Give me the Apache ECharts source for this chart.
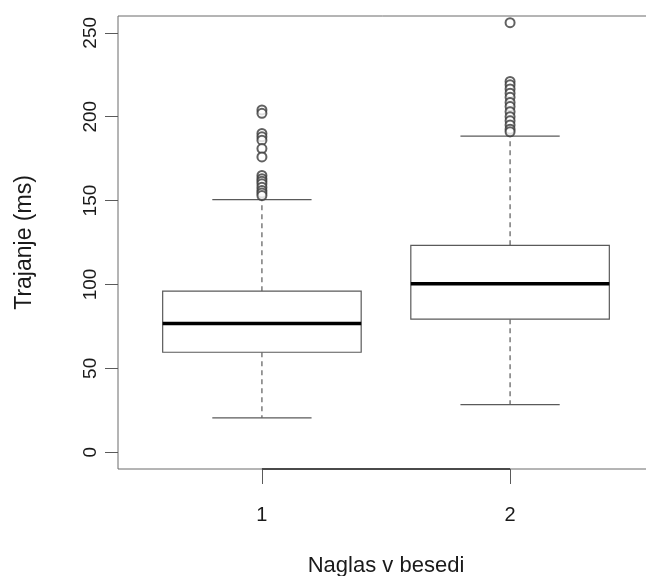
<!DOCTYPE html>
<html>
<head>
<meta charset="utf-8">
<script src="https://cdn.jsdelivr.net/npm/echarts@6/dist/echarts.min.js"></script>
<style>html,body{margin:0;padding:0;background:#fff}#c{width:646px;height:576px}</style>
</head>
<body>
<div id="c"></div>
<script>
const categories = ['1', '2'];
const positions = [1, 2];
const lowerWhisker = [20.5, 28.4];
const q1 = [59.6, 79.3];
const median = [76.7, 100.4];
const q3 = [96.0, 123.3];
const upperWhisker = [150.6, 188.4];
const outliers1 = [204, 202, 190, 188, 186, 181, 176, 165, 163, 161.5, 160, 158, 156, 154.5, 153];
const outliers2 = [256, 221, 219, 216.5, 214, 211.5, 208.5, 206, 203, 200, 197.5, 195, 192.5, 191];
const yTicks = [0, 50, 100, 150, 200, 250];
const xRange = [0.42, 2.58];
const yRange = [-10, 260];

const boxData = positions.map((p, i) => [p, lowerWhisker[i], q1[i], median[i], q3[i], upperWhisker[i]]);
const outlierData = [];
outliers1.forEach(v => outlierData.push([positions[0], v]));
outliers2.forEach(v => outlierData.push([positions[1], v]));

const font = "'Liberation Sans', Arial, sans-serif";
const textColor = '#1a1a1a';
const lineGray = '#5a5a5a';

const chart = echarts.init(document.getElementById('c'), null, {renderer: 'canvas'});
chart.setOption({
  animation: false,
  backgroundColor: '#fff',
  grid: {left: 118, top: 16, width: 536, height: 453, show: true, borderColor: '#6a6a6a', borderWidth: 1,
    backgroundColor: 'transparent', containLabel: false, outerBoundsMode: 'none'},
  xAxis: {
    type: 'value', min: xRange[0], max: xRange[1],
    name: 'Naglas v besedi', nameLocation: 'middle', nameGap: 86,
    nameTextStyle: {fontFamily: font, fontSize: 22, color: textColor},
    axisLine: {show: false, onZero: false},
    splitLine: {show: false},
    axisTick: {show: true, inside: false, customValues: positions, length: 15, lineStyle: {color: lineGray, width: 1}},
    axisLabel: {customValues: positions, margin: 36, fontFamily: font, fontSize: 20, color: textColor,
      formatter: v => categories[positions.indexOf(v)]}
  },
  yAxis: {
    type: 'value', min: yRange[0], max: yRange[1],
    name: 'Trajanje (ms)', nameLocation: 'middle', nameGap: 82, nameRotate: 90,
    nameTextStyle: {fontFamily: font, fontSize: 23, color: textColor},
    axisLine: {show: false, onZero: false},
    splitLine: {show: false},
    axisTick: {show: true, inside: false, customValues: yTicks, length: 13, lineStyle: {color: lineGray, width: 1}},
    axisLabel: {customValues: yTicks, rotate: 90, margin: 18, fontFamily: font, fontSize: 19, color: textColor}
  },
  series: [
    {
      type: 'custom',
      data: boxData,
      clip: false,
      renderItem: function (params, api) {
        const x = api.value(0);
        const lw = api.coord([x, api.value(1)]);
        const b1 = api.coord([x, api.value(2)]);
        const md = api.coord([x, api.value(3)]);
        const b3 = api.coord([x, api.value(4)]);
        const uw = api.coord([x, api.value(5)]);
        const halfBox = api.size([0.4, 0])[0];
        const halfStaple = api.size([0.2, 0])[0];
        const cx = lw[0];
        const stroke = {stroke: lineGray, lineWidth: 1.2, fill: null};
        const dashed = {stroke: lineGray, lineWidth: 1.2, lineDash: [5, 4], fill: null};
        return {
          type: 'group',
          children: [
            {type: 'line', shape: {x1: cx, y1: b1[1], x2: cx, y2: lw[1]}, style: dashed},
            {type: 'line', shape: {x1: cx, y1: b3[1], x2: cx, y2: uw[1]}, style: dashed},
            {type: 'line', shape: {x1: cx - halfStaple, y1: lw[1], x2: cx + halfStaple, y2: lw[1]}, style: stroke},
            {type: 'line', shape: {x1: cx - halfStaple, y1: uw[1], x2: cx + halfStaple, y2: uw[1]}, style: stroke},
            {type: 'rect', shape: {x: cx - halfBox, y: b3[1], width: 2 * halfBox, height: b1[1] - b3[1]}, style: {stroke: lineGray, lineWidth: 1.2, fill: '#fff'}},
            {type: 'line', shape: {x1: cx - halfBox, y1: md[1], x2: cx + halfBox, y2: md[1]}, style: {stroke: '#000', lineWidth: 3.5}}
          ]
        };
      }
    },
    {
      type: 'scatter',
      data: outlierData,
      symbol: 'emptyCircle',
      symbolSize: 9,
      itemStyle: {color: '#3a3a3a', borderWidth: 1},
      z: 3
    },
    {
      type: 'line',
      data: [[positions[0], yRange[0]], [positions[1], yRange[0]]],
      symbol: 'none',
      clip: false,
      lineStyle: {color: '#4a4a4a', width: 2},
      z: 4
    }
  ]
});
</script>
</body>
</html>
